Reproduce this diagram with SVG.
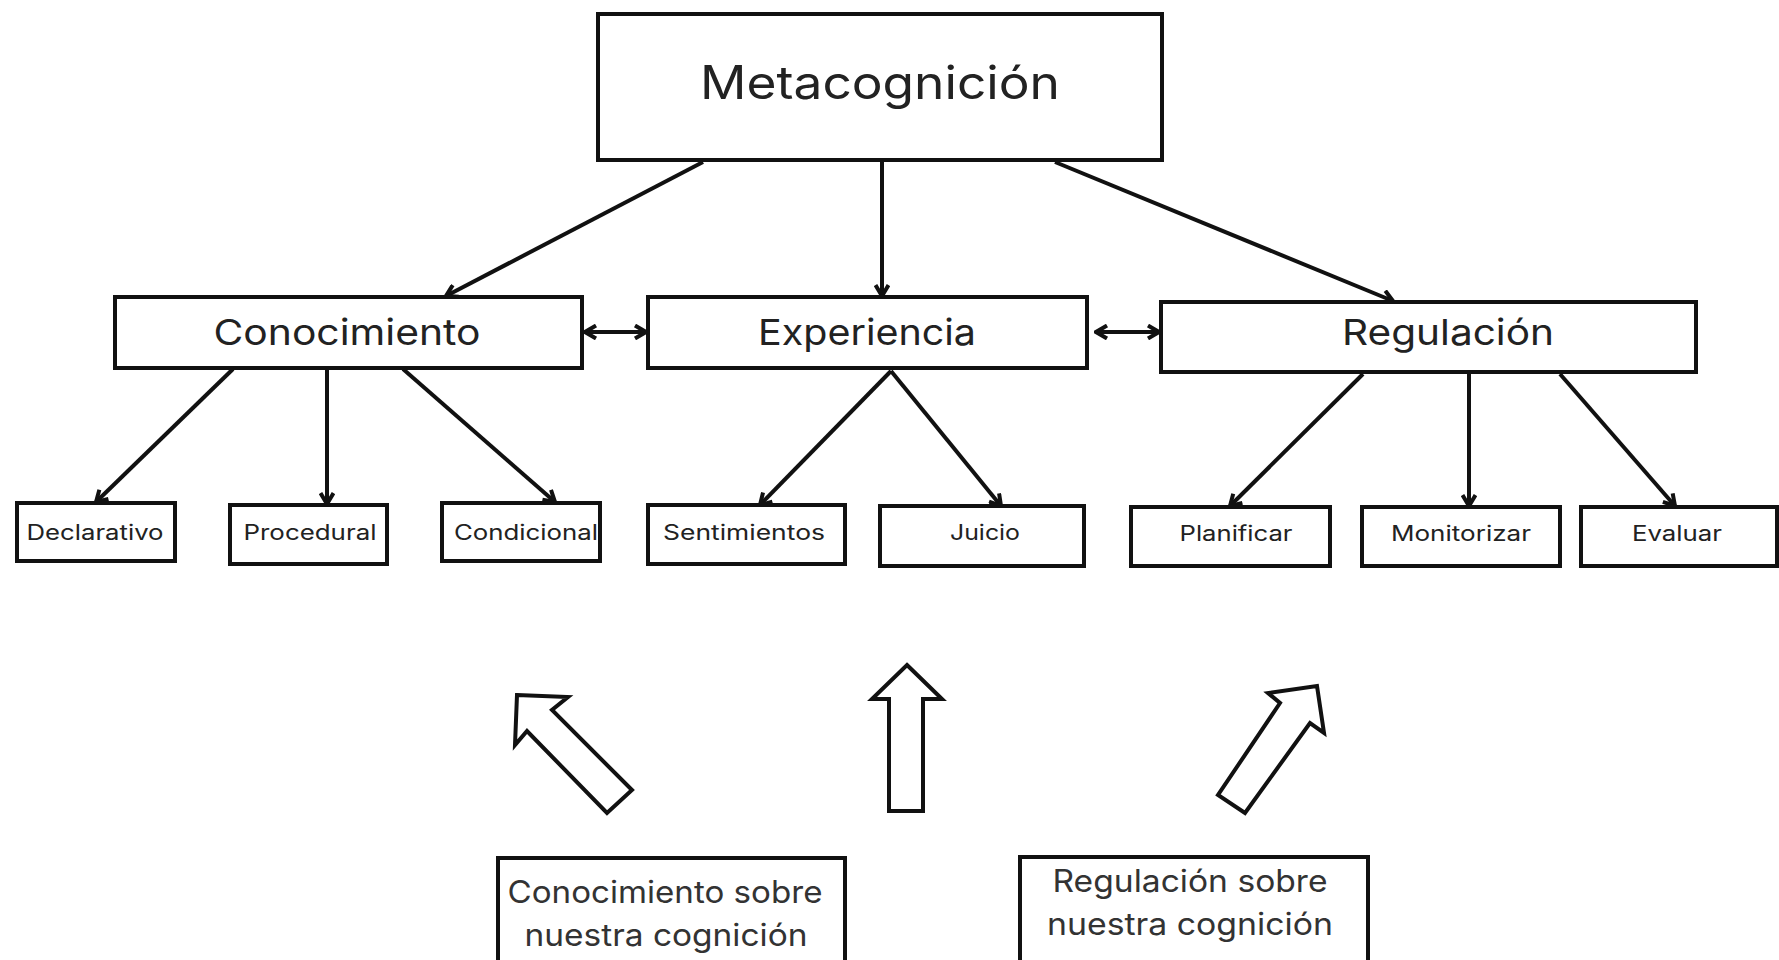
<svg xmlns="http://www.w3.org/2000/svg" width="1779" height="960" viewBox="0 0 1779 960">
<style>
.box{fill:#fff;stroke:#111;stroke-width:4}
.t{font-family:Inter,"Open Sans","Liberation Sans",sans-serif;fill:#222;text-anchor:middle}
.big{font-size:46px}
.mid{font-size:36px}
.sm{font-size:21px}
.lbl{font-size:31px;fill:#333}
.con{stroke:#111;stroke-width:4;fill:none}
.blk{fill:#fff;stroke:#111;stroke-width:4;stroke-linejoin:miter}
</style>
<defs>
<marker id="ah" viewBox="0 0 16 16" refX="14" refY="8" markerWidth="16" markerHeight="16" markerUnits="userSpaceOnUse" orient="auto-start-reverse">
<path d="M3,1.5 L14,8 L3,14.5" fill="none" stroke="#111" stroke-width="4"/>
</marker>
</defs>
<rect width="1779" height="960" fill="#fff"/>
<g id="connectors">
<line class="con" x1="703" y1="162" x2="446" y2="296" marker-end="url(#ah)"/>
<line class="con" x1="882" y1="162" x2="882" y2="296" marker-end="url(#ah)"/>
<line class="con" x1="1055" y1="162" x2="1393" y2="301" marker-end="url(#ah)"/>
<line class="con" x1="585" y1="332" x2="646" y2="332" marker-start="url(#ah)" marker-end="url(#ah)"/>
<line class="con" x1="1096" y1="332" x2="1159" y2="332" marker-start="url(#ah)" marker-end="url(#ah)"/>
<line class="con" x1="233" y1="369" x2="96" y2="502" marker-end="url(#ah)"/>
<line class="con" x1="327" y1="369" x2="327" y2="504" marker-end="url(#ah)"/>
<line class="con" x1="403" y1="369" x2="555" y2="502" marker-end="url(#ah)"/>
<line class="con" x1="891" y1="371" x2="760" y2="505" marker-end="url(#ah)"/>
<line class="con" x1="891" y1="371" x2="1001" y2="506" marker-end="url(#ah)"/>
<line class="con" x1="1363" y1="374" x2="1230" y2="506" marker-end="url(#ah)"/>
<line class="con" x1="1469" y1="374" x2="1469" y2="506" marker-end="url(#ah)"/>
<line class="con" x1="1560" y1="374" x2="1675" y2="506" marker-end="url(#ah)"/>
</g>
<g id="metacognicion"><rect class="box" x="598" y="14" width="564" height="146"/><text class="t big" x="880" y="99" textLength="360" lengthAdjust="spacingAndGlyphs">Metacognición</text></g>
<g id="conocimiento"><rect class="box" x="115" y="297" width="467" height="71"/><text class="t mid" x="347" y="345" textLength="267" lengthAdjust="spacingAndGlyphs">Conocimiento</text></g>
<g id="experiencia"><rect class="box" x="648" y="297" width="439" height="71"/><text class="t mid" x="867" y="345" textLength="218" lengthAdjust="spacingAndGlyphs">Experiencia</text></g>
<g id="regulacion"><rect class="box" x="1161" y="302" width="535" height="70"/><text class="t mid" x="1448" y="345" textLength="212" lengthAdjust="spacingAndGlyphs">Regulación</text></g>
<g id="declarativo"><rect class="box" x="17" y="503" width="158" height="58"/><text class="t sm" x="95" y="540" textLength="137" lengthAdjust="spacingAndGlyphs">Declarativo</text></g>
<g id="procedural"><rect class="box" x="230" y="505" width="157" height="59"/><text class="t sm" x="310" y="540" textLength="133" lengthAdjust="spacingAndGlyphs">Procedural</text></g>
<g id="condicional"><rect class="box" x="442" y="503" width="158" height="58"/><text class="t sm" x="526" y="540" textLength="144" lengthAdjust="spacingAndGlyphs">Condicional</text></g>
<g id="sentimientos"><rect class="box" x="648" y="505" width="197" height="59"/><text class="t sm" x="744" y="540" textLength="162" lengthAdjust="spacingAndGlyphs">Sentimientos</text></g>
<g id="juicio"><rect class="box" x="880" y="506" width="204" height="60"/><text class="t sm" x="985" y="540" textLength="70" lengthAdjust="spacingAndGlyphs">Juicio</text></g>
<g id="planificar"><rect class="box" x="1131" y="507" width="199" height="59"/><text class="t sm" x="1236" y="541" textLength="113" lengthAdjust="spacingAndGlyphs">Planificar</text></g>
<g id="monitorizar"><rect class="box" x="1362" y="507" width="198" height="59"/><text class="t sm" x="1461" y="541" textLength="140" lengthAdjust="spacingAndGlyphs">Monitorizar</text></g>
<g id="evaluar"><rect class="box" x="1581" y="507" width="196" height="59"/><text class="t sm" x="1677" y="541" textLength="90" lengthAdjust="spacingAndGlyphs">Evaluar</text></g>
<g id="arrow-left"><polygon class="blk" points="517,695 568,697 552,710 632,790 607,813 527,731 515,745"/></g>
<g id="arrow-up"><polygon class="blk" points="907,665 942,699 923,699 923,811 889,811 889,699 872,699"/></g>
<g id="arrow-right"><polygon class="blk" points="1317,686 1324,733 1310,723 1245,813 1218,795 1280,703 1268,693"/></g>
<g id="conocimiento-sobre"><rect class="box" x="498" y="858" width="347" height="110"/><text class="t lbl" x="665" y="903" textLength="315" lengthAdjust="spacingAndGlyphs">Conocimiento sobre</text><text class="t lbl" x="666" y="946" textLength="283" lengthAdjust="spacingAndGlyphs">nuestra cognición</text></g>
<g id="regulacion-sobre"><rect class="box" x="1020" y="857" width="348" height="110"/><text class="t lbl" x="1190" y="892" textLength="275" lengthAdjust="spacingAndGlyphs">Regulación sobre</text><text class="t lbl" x="1190" y="935" textLength="286" lengthAdjust="spacingAndGlyphs">nuestra cognición</text></g>
</svg>
